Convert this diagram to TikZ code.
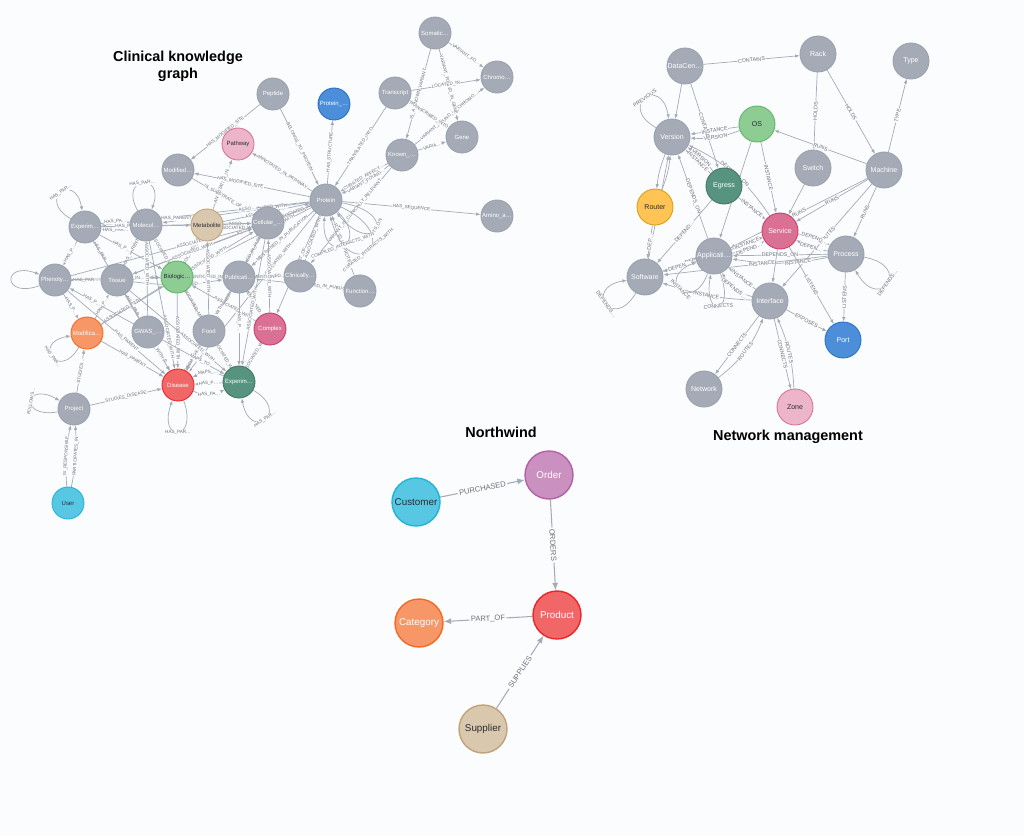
\documentclass[tikz,border=0pt]{standalone}
\usepackage{fontspec}
\setmainfont{Liberation Sans}
\usetikzlibrary{arrows.meta,backgrounds}

\definecolor{bgC}{HTML}{FBFCFE}
\definecolor{edgeC}{HTML}{A5ABB6}
\definecolor{lblC}{HTML}{6B6F78}
\definecolor{nText}{HTML}{2A2C34}
\definecolor{nGray}{HTML}{A5ABB6}
\definecolor{nGrayD}{HTML}{9AA1AC}
\definecolor{nBlue}{HTML}{4C8EDA}
\definecolor{nBlueD}{HTML}{2870C2}
\definecolor{nPink}{HTML}{DA7194}
\definecolor{nPinkD}{HTML}{CC3C6C}
\definecolor{nLPink}{HTML}{ECB5C9}
\definecolor{nLPinkD}{HTML}{DA7298}
\definecolor{nDGreen}{HTML}{569480}
\definecolor{nDGreenD}{HTML}{447666}
\definecolor{nLGreen}{HTML}{8DCC93}
\definecolor{nLGreenD}{HTML}{5DB665}
\definecolor{nYellow}{HTML}{FFC454}
\definecolor{nYellowD}{HTML}{D7A013}
\definecolor{nOrange}{HTML}{F79767}
\definecolor{nOrangeD}{HTML}{F36924}
\definecolor{nRed}{HTML}{F16667}
\definecolor{nRedD}{HTML}{EB2728}
\definecolor{nTan}{HTML}{D9C8AE}
\definecolor{nTanD}{HTML}{C0A378}
\definecolor{nPurple}{HTML}{C990C0}
\definecolor{nPurpleD}{HTML}{B261A5}
\definecolor{nCyan}{HTML}{57C7E3}
\definecolor{nCyanD}{HTML}{23B3D7}

\begin{document}
\begin{tikzpicture}[
    x=0.02cm, y=-0.02cm,
    ck/.style={circle, draw=nGrayD, fill=nGray, line width=0.5pt, minimum size=0.64cm, inner sep=0pt, text=white, font=\fontsize{3.4}{4}\selectfont},
    nm/.style={ck, minimum size=0.72cm, font=\fontsize{4}{5}\selectfont},
    nw/.style={ck, minimum size=0.96cm, line width=0.8pt, font=\fontsize{5.6}{7}\selectfont},
    blueN/.style={fill=nBlue, draw=nBlueD},
    pinkN/.style={fill=nPink, draw=nPinkD},
    lpinkN/.style={fill=nLPink, draw=nLPinkD, text=nText},
    dgreenN/.style={fill=nDGreen, draw=nDGreenD},
    lgreenN/.style={fill=nLGreen, draw=nLGreenD, text=nText},
    yellowN/.style={fill=nYellow, draw=nYellowD, text=nText},
    orangeN/.style={fill=nOrange, draw=nOrangeD},
    redN/.style={fill=nRed, draw=nRedD},
    tanN/.style={fill=nTan, draw=nTanD, text=nText},
    purpleN/.style={fill=nPurple, draw=nPurpleD},
    cyanN/.style={fill=nCyan, draw=nCyanD, text=nText},
    rel/.style={draw=edgeC, line width=0.4pt, -{Latex[length=0.9mm, width=0.7mm]}},
    nwrel/.style={rel, line width=0.6pt, -{Latex[length=1.5mm, width=1.2mm]}},
    cklbl/.style={sloped, font=\fontsize{2.6}{3}\selectfont, text=lblC, fill=bgC, inner sep=0.3pt},
    nmlbl/.style={cklbl, font=\fontsize{3}{3.5}\selectfont},
    nwlbl/.style={cklbl, font=\fontsize{4.3}{5}\selectfont, inner sep=0.8pt},
    title/.style={font=\fontsize{8.2}{9.6}\selectfont\bfseries, align=center}
  ]
  \useasboundingbox (0,0) rectangle (1024,836);
  \begin{scope}[on background layer]
    \fill[bgC] (0,0) rectangle (1024,836);
  \end{scope}

  % titles
  \node[title] (cktitle) at (178,66) {Clinical knowledge\\graph};
  \node[title] (nwtitle) at (501,432) {Northwind};
  \node[title] (nmtitle) at (788,437) {Network management};

  % clinical knowledge graph
  \node[ck] (pept) at (273,94) {Peptide};
  \node[ck, blueN] (pstr) at (334,104) {Protein\_…};
  \node[ck, lpinkN] (pathw) at (238,144) {Pathway};
  \node[ck] (modsite) at (178,170) {Modified…};
  \node[ck] (somat) at (435,33) {Somatic…};
  \node[ck] (chrom) at (497,77) {Chromo…};
  \node[ck] (trans) at (395,93) {Transcript};
  \node[ck] (gene) at (462,137) {Gene};
  \node[ck] (known) at (402,155) {Known\_…};
  \node[ck] (prot) at (326,200) {Protein};
  \node[ck] (amino) at (497,216) {Amino\_a…};
  \node[ck] (expt) at (85,227) {Experim…};
  \node[ck] (molec) at (146,225) {Molecul…};
  \node[ck, tanN] (metab) at (207,225) {Metabolite};
  \node[ck] (cellu) at (268,223) {Cellular\_…};
  \node[ck] (pheno) at (55,280) {Phenoty…};
  \node[ck] (tissue) at (117,280) {Tissue};
  \node[ck, lgreenN] (biolo) at (177,277) {Biologic…};
  \node[ck] (publi) at (239,277) {Publicati…};
  \node[ck] (clini) at (300,276) {Clinically…};
  \node[ck] (funct) at (360,291) {Function…};
  \node[ck, orangeN] (modif) at (87,333) {Modifica…};
  \node[ck] (gwas) at (148,332) {GWAS\_…};
  \node[ck] (food) at (209,331) {Food};
  \node[ck, pinkN] (compl) at (270,329) {Complex};
  \node[ck, redN] (disea) at (178,385) {Disease};
  \node[ck, dgreenN] (expg) at (239,382) {Experim…};
  \node[ck] (proj) at (74,409) {Project};
  \node[ck, cyanN] (user) at (68,503) {User};

  % network management
  \node[nm] (dcen) at (685,66) {DataCen…};
  \node[nm] (rack) at (818,54) {Rack};
  \node[nm] (type) at (911,61) {Type};
  \node[nm] (vers) at (672,137) {Version};
  \node[nm, lgreenN] (os) at (757,124) {OS};
  \node[nm] (switch) at (813,168) {Switch};
  \node[nm] (mach) at (884,170) {Machine};
  \node[nm, dgreenN] (egress) at (724,186) {Egress};
  \node[nm, yellowN] (router) at (655,207) {Router};
  \node[nm, pinkN] (serv) at (780,231) {Service};
  \node[nm] (proc) at (846,254) {Process};
  \node[nm] (appl) at (714,256) {Applicati…};
  \node[nm] (soft) at (645,277) {Software};
  \node[nm] (iface) at (770,301) {Interface};
  \node[nm, blueN] (port) at (843,340) {Port};
  \node[nm] (netw) at (704,389) {Network};
  \node[nm, lpinkN] (zone) at (795,407) {Zone};

  % northwind
  \node[nw, cyanN] (cust) at (416,502) {Customer};
  \node[nw, purpleN] (order) at (549,475) {Order};
  \node[nw, redN] (prod) at (557,615) {Product};
  \node[nw, orangeN] (categ) at (419,623) {Category};
  \node[nw, tanN] (suppl) at (483,729) {Supplier};

  \begin{scope}[on background layer]
    % clinical: outer nodes
    \draw[rel] (pept) -- node[cklbl]{HAS\_MODIFIED\_SITE} (modsite);
    \draw[rel] (pept) -- node[cklbl]{BELONGS\_TO\_PROTEIN} (prot);
    \draw[rel] (prot) -- node[cklbl]{HAS\_STRUCTURE} (pstr);
    \draw[rel] (trans) -- node[cklbl]{TRANSLATED\_INTO} (prot);
    \draw[rel] (known) -- node[cklbl]{CURATED\_AFFECT…} (prot);
    \draw[rel] (known) to[bend left=8] node[cklbl]{VARIANT\_FOUND…} (prot);
    \draw[rel] (known) -- node[cklbl]{VARIA…} (gene);
    \draw[rel] (known) -- node[cklbl]{VARIANT\_FOUND\_IN\_CHROMO…} (chrom);
    \draw[rel] (somat) -- node[cklbl]{VARIANT\_FO…} (chrom);
    \draw[rel] (somat) -- node[cklbl]{IS\_A\_KNOWN\_VARIANT} (known);
    \draw[rel] (somat) -- node[cklbl]{VARIANT\_FOUND\_IN\_GENE} (gene);
    \draw[rel] (trans) -- node[cklbl]{LOCATED\_IN} (chrom);
    \draw[rel] (gene) -- node[cklbl]{TRANSCRIBED\_INTO} (trans);
    \draw[rel] (prot) -- node[cklbl]{HAS\_SEQUENCE} (amino);
    \draw[rel] (prot) -- node[cklbl]{ANNOTATED\_IN\_PATHWAY} (pathw);
    \draw[rel] (metab) -- node[cklbl]{ANNOTATED\_IN…} (pathw);
    \draw[rel] (prot) -- node[cklbl, pos=0.6]{HAS\_MODIFIED\_SITE} (modsite);
    \draw[rel] (modsite) -- node[cklbl]{IS\_SUBSTRATE\_OF} (cellu);
    \draw[rel] (funct) -- node[cklbl]{FOUND\_IN\_PROTEIN} (prot);
    \draw[rel] (funct) -- node[cklbl, pos=0.2]{MENTIONED\_IN\_PUBLICATION} (publi);
    \draw[rel] (clini) -- node[cklbl]{ASSOCIATED\_WITH} (prot);
    \draw[rel] (known) -- node[cklbl, pos=0.45]{VARIANT\_IS\_CLINICALLY\_RELEVANT} (clini);
    \draw[rel] (prot) to[out=-10, in=-50, min distance=1.2cm] node[cklbl]{ACTS\_ON} (prot);
    \draw[rel] (prot) to[out=-25, in=-75, min distance=1.5cm] node[cklbl]{CURATED\_INTERACTS\_WITH} (prot);
    \draw[rel] (prot) to[out=-45, in=-95, min distance=1.0cm] node[cklbl]{COMPILED\_INTERACTS\_WITH} (prot);
    % clinical: towards protein
    \draw[rel] (cellu) -- node[cklbl]{ASSOCIATED\_WITH} (prot);
    \draw[rel] (metab) -- node[cklbl]{ASSOCIATED\_WITH} (prot);
    \draw[rel] (prot) -- node[cklbl]{MENTIONED\_IN\_PUBLICATION} (publi);
    \draw[rel] (prot) -- node[cklbl]{IS\_SUBUNIT\_OF} (compl);
    \draw[rel] (prot) -- node[cklbl, pos=0.3]{ASSOCIATED\_WITH} (tissue);
    \draw[rel] (prot) -- node[cklbl, pos=0.3]{ASSOCIATED\_WITH} (biolo);
    \draw[rel] (prot) -- node[cklbl, pos=0.3]{ASSOCIATED\_WITH} (disea);
    \draw[rel] (prot) -- node[cklbl, pos=0.3]{ASSOCIATED\_WITH} (molec);
    \draw[rel] (prot) -- node[cklbl, pos=0.3]{ASSO…} (expt);
    % clinical: core mesh
    \draw[rel] (expt) to[bend left=10] node[cklbl]{HAS\_PA…} (molec);
    \draw[rel] (molec) to[bend left=10] node[cklbl]{HAS\_PAR…} (expt);
    \draw[rel] (metab) to[bend right=15] node[cklbl]{HAS\_PARENT} (molec);
    \draw[rel] (metab) -- node[cklbl]{ASSO…} (cellu);
    \draw[rel] (cellu) to[bend left=10] node[cklbl]{ASSOCIATED\_WITH} (metab);
    \draw[rel] (expt) -- node[cklbl]{HAS\_P…} (pheno);
    \draw[rel] (pheno) -- node[cklbl]{HAS\_P…} (modif);
    \draw[rel] (pheno) -- node[cklbl]{HAS\_PAR…} (tissue);
    \draw[rel] (tissue) -- node[cklbl]{MENTIONED…} (biolo);
    \draw[rel] (biolo) -- node[cklbl]{MENTIONED\_IN…} (publi);
    \draw[rel] (cellu) -- node[cklbl]{MENTIONED\_IN\_PUBLICATION} (publi);
    \draw[rel] (molec) -- node[cklbl]{HAS\_PARENT} (tissue);
    \draw[rel] (molec) -- node[cklbl, pos=0.6]{ASSOCIATED\_WITH} (biolo);
    \draw[rel] (metab) -- node[cklbl]{ASSOCIATED\_WITH} (biolo);
    \draw[rel] (expt) -- node[cklbl]{HAS\_PAR…} (tissue);
    \draw[rel] (expt) -- node[cklbl, pos=0.35]{HAS\_P…} (biolo);
    \draw[rel] (expt) -- node[cklbl, pos=0.3]{HAS\_PAR…} (cellu);
    \draw[rel] (expt) -- node[cklbl, pos=0.3]{HAS\_PAR…} (metab);
    \draw[rel] (pheno) -- node[cklbl, pos=0.6]{MENTIONED\_IN…} (biolo);
    \draw[rel] (pheno) -- node[cklbl, pos=0.7]{ASSOCIATED\_WITH} (cellu);
    \draw[rel] (tissue) -- node[cklbl]{ASSOCIATED\_WITH} (cellu);
    \draw[rel] (tissue) to[bend right=8] node[cklbl, pos=0.6]{MENTIONED…} (publi);
    \draw[rel] (modif) -- node[cklbl]{HAS\_P…} (tissue);
    \draw[rel] (modif) -- node[cklbl, pos=0.35]{ASSOCIATED\_WITH} (biolo);
    \draw[rel] (modif) -- node[cklbl, pos=0.7]{ASSOCIATED\_WITH} (cellu);
    \draw[rel] (gwas) -- node[cklbl, pos=0.4]{HAS\_PAR…} (tissue);
    \draw[rel] (gwas) -- node[cklbl, pos=0.65]{HAS\_P…} (pheno);
    \draw[rel] (gwas) -- node[cklbl, pos=0.7]{ASSOCIATED\_WITH} (molec);
    \draw[rel] (food) -- node[cklbl]{ASSOCIATED\_WITH} (biolo);
    \draw[rel] (food) -- node[cklbl, pos=0.6]{ASSOCIATED\_WITH} (metab);
    \draw[rel] (food) -- node[cklbl]{MENTIONED…} (publi);
    \draw[rel] (compl) -- node[cklbl]{ASSOCIATED\_WITH} (cellu);
    \draw[rel] (compl) -- node[cklbl, pos=0.35]{ASSOCIATED\_WITH} (biolo);
    \draw[rel] (compl) -- node[cklbl]{MENTIONED…} (publi);
    \draw[rel] (publi) -- node[cklbl]{MENTIONED…} (clini);
    % clinical: towards disease and experiment
    \draw[rel] (modif) -- node[cklbl]{HAS\_PARENT} (disea);
    \draw[rel] (pheno) -- node[cklbl, pos=0.6]{HAS\_PARENT} (disea);
    \draw[rel] (expt) -- node[cklbl, pos=0.7]{HAS\_PARENT} (disea);
    \draw[rel] (gwas) -- node[cklbl]{HAS\_P…} (disea);
    \draw[rel] (tissue) -- node[cklbl, pos=0.6]{ASSOCIATED\_WITH} (disea);
    \draw[rel] (biolo) -- node[cklbl, pos=0.6]{ASSOCIATED\_WITH} (disea);
    \draw[rel] (food) -- node[cklbl]{ASSOCIATED\_WITH} (disea);
    \draw[rel] (molec) -- node[cklbl, pos=0.75]{ASSOCIATED\_WITH} (disea);
    \draw[rel] (publi) -- node[cklbl, pos=0.6]{MENTIONED…} (disea);
    \draw[rel] (cellu) -- node[cklbl, pos=0.65]{ASSOCIATED\_WITH} (disea);
    \draw[rel] (expg) -- node[cklbl]{HAS\_P…} (disea);
    \draw[rel] (disea) to[bend right=25] node[cklbl]{HAS\_PA…} (expg);
    \draw[rel] (expg) to[bend right=25] node[cklbl]{MAPS\_…} (disea);
    \draw[rel] (tissue) -- node[cklbl, pos=0.7]{ASSOCIATED\_WITH} (expg);
    \draw[rel] (biolo) -- node[cklbl, pos=0.4]{MAPS\_TO} (expg);
    \draw[rel] (food) -- node[cklbl]{ASSOCIATED\_WITH} (expg);
    \draw[rel] (publi) -- node[cklbl, pos=0.4]{HAS\_P…} (expg);
    \draw[rel] (cellu) -- node[cklbl, pos=0.55]{ASSOCIATED\_WITH} (expg);
    \draw[rel] (compl) -- node[cklbl]{ASSOCIATED\_WITH} (expg);
    \draw[rel] (gwas) -- node[cklbl, pos=0.6]{MAPS\_TO} (expg);
    % clinical: self loops
    \draw[rel] (expt) to[out=150, in=100, min distance=0.8cm] node[cklbl]{HAS\_PAR…} (expt);
    \draw[rel] (molec) to[out=120, in=70, min distance=0.8cm] node[cklbl]{HAS\_PAR…} (molec);
    \draw[rel] (pheno) to[out=200, in=160, min distance=0.8cm] (pheno);
    \draw[rel] (modif) to[out=240, in=190, min distance=0.8cm] node[cklbl]{HAS\_PAR…} (modif);
    \draw[rel] (proj) to[out=190, in=150, min distance=0.8cm] node[cklbl]{FOLLOWS…} (proj);
    \draw[rel] (disea) to[out=-70, in=-110, min distance=0.9cm] node[cklbl]{HAS\_PAR…} (disea);
    \draw[rel] (expg) to[out=-30, in=-80, min distance=0.9cm] node[cklbl]{HAS\_PAR…} (expg);
    % clinical: project
    \draw[rel] (user) to[bend left=8] node[cklbl]{IS\_RESPONSIBLE} (proj);
    \draw[rel] (user) to[bend right=8] node[cklbl]{PARTICIPATES\_IN} (proj);
    \draw[rel] (proj) -- node[cklbl]{STUDIES\_DISEASE} (disea);
    \draw[rel] (proj) -- node[cklbl]{STUDIES…} (modif);

    % network management
    \draw[rel] (dcen) -- node[nmlbl]{CONTAINS} (rack);
    \draw[rel] (dcen) -- (vers);
    \draw[rel] (dcen) -- node[nmlbl]{CONTAINS} (egress);
    \draw[rel] (rack) -- node[nmlbl]{HOLDS} (switch);
    \draw[rel] (rack) -- node[nmlbl]{HOLDS} (mach);
    \draw[rel] (mach) -- node[nmlbl]{TYPE} (type);
    \draw[rel] (mach) -- node[nmlbl]{RUNS} (os);
    \draw[rel] (mach) -- node[nmlbl]{RUNS} (serv);
    \draw[rel] (mach) -- node[nmlbl]{RUNS} (appl);
    \draw[rel] (mach) -- node[nmlbl]{RUNS} (proc);
    \draw[rel] (mach) -- node[nmlbl]{ROUTES} (iface);
    \draw[rel] (switch) -- (serv);
    \draw[rel] (os) -- node[nmlbl]{INSTANCE} (vers);
    \draw[rel] (os) to[bend left=12] node[nmlbl]{VERSION} (vers);
    \draw[rel] (vers) to[out=150, in=100, min distance=0.9cm] node[nmlbl]{PREVIOUS} (vers);
    \draw[rel] (os) -- node[nmlbl]{INSTANCE} (serv);
    \draw[rel] (os) -- (appl);
    \draw[rel] (egress) -- node[nmlbl]{INSTANCE} (vers);
    \draw[rel] (egress) to[bend right=10] node[nmlbl]{VERSION} (vers);
    \draw[rel] (egress) -- node[nmlbl]{INSTANCE} (serv);
    \draw[rel] (serv) to[bend right=15] node[nmlbl]{DEPENDS\_ON} (vers);
    \draw[rel] (appl) -- node[nmlbl]{DEPENDS\_ON} (vers);
    \draw[rel] (soft) -- (vers);
    \draw[rel] (vers) to[bend right=8] (router);
    \draw[rel] (router) to[bend right=8] (vers);
    \draw[rel] (soft) -- node[nmlbl, pos=0.4]{DEPENDS\_ON} (serv);
    \draw[rel] (appl) -- node[nmlbl]{INSTANCE} (serv);
    \draw[rel] (appl) to[bend right=12] node[nmlbl]{DEPEND…} (serv);
    \draw[rel] (serv) to[bend left=10] node[nmlbl]{DEPEND…} (proc);
    \draw[rel] (proc) to[bend left=10] node[nmlbl]{DEPEN…} (serv);
    \draw[rel] (proc) -- node[nmlbl]{DEPENDS\_ON} (appl);
    \draw[rel] (proc) to[bend left=10] node[nmlbl, pos=0.3]{INSTANCE} (appl);
    \draw[rel] (proc) to[out=-10, in=-60, min distance=1cm] node[nmlbl]{DEPENDS…} (proc);
    \draw[rel] (proc) -- node[nmlbl]{LISTENS} (port);
    \draw[rel] (serv) -- node[nmlbl]{LISTENS} (port);
    \draw[rel] (iface) -- node[nmlbl]{EXPOSES} (port);
    \draw[rel] (iface) -- node[nmlbl]{CONNECTS} (netw);
    \draw[rel] (netw) to[bend right=15] node[nmlbl]{ROUTES} (iface);
    \draw[rel] (iface) -- node[nmlbl]{CONNECTS} (zone);
    \draw[rel] (zone) to[bend right=10] node[nmlbl]{ROUTES} (iface);
    \draw[rel] (appl) -- node[nmlbl]{DEPEN…} (soft);
    \draw[rel] (router) -- node[nmlbl]{DEP…} (soft);
    \draw[rel] (egress) -- node[nmlbl]{DEPEND…} (soft);
    \draw[rel] (iface) to[bend left=8] node[nmlbl]{INSTANCE} (soft);
    \draw[rel] (proc) -- node[nmlbl, pos=0.4]{INSTANCE} (soft);
    \draw[rel] (soft) to[out=-120, in=-170, min distance=0.9cm] node[nmlbl]{DEPENDS…} (soft);
    \draw[rel] (appl) to[out=-110, in=-160, min distance=0.9cm] node[nmlbl]{INSTANCE} (appl);
    \draw[rel] (appl) to[out=-70, in=-100, min distance=0.9cm] node[nmlbl]{CONNECTS} (appl);
    \draw[rel] (iface) to[bend left=25] node[nmlbl]{DEPENDS…} (appl);
    \draw[rel] (iface) -- node[nmlbl]{INSTANCE} (appl);
    \draw[rel] (serv) -- (iface);

    % northwind
    \draw[nwrel] (cust) -- node[nwlbl]{PURCHASED} (order);
    \draw[nwrel] (order) -- node[nwlbl]{ORDERS} (prod);
    \draw[nwrel] (prod) -- node[nwlbl]{PART\_OF} (categ);
    \draw[nwrel] (suppl) -- node[nwlbl]{SUPPLIES} (prod);
  \end{scope}
\end{tikzpicture}
\end{document}
